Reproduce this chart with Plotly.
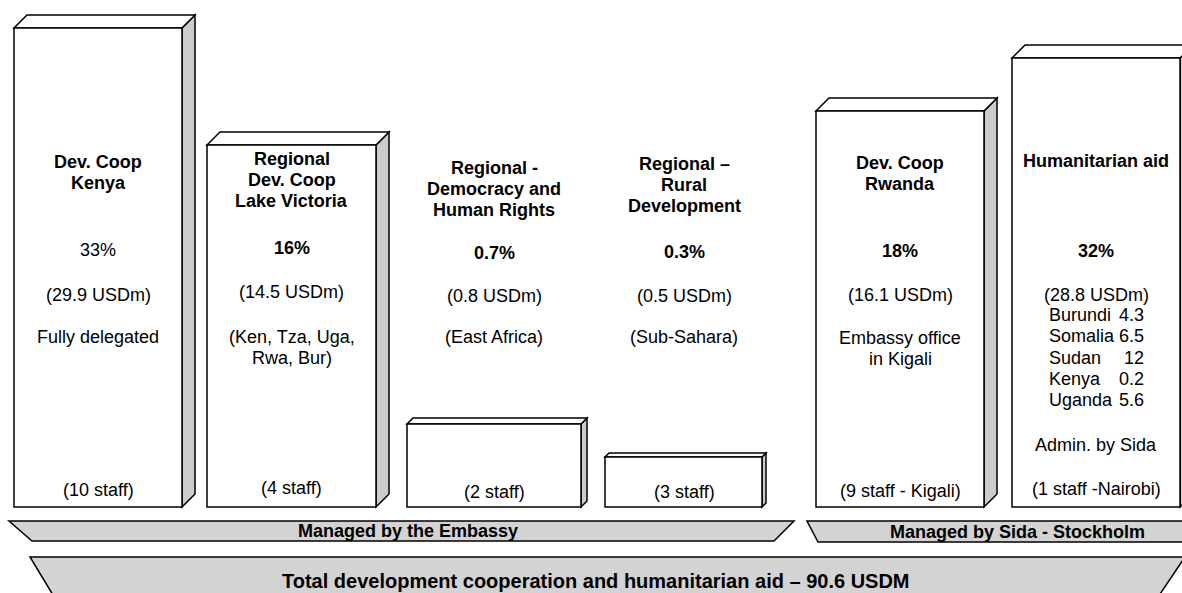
import plotly.graph_objects as go

# ---- data ----
box_titles = [["Dev. Coop", "Kenya"], ["Regional", "Dev. Coop", "Lake Victoria"],
              ["Regional -", "Democracy and", "Human Rights"], ["Regional –", "Rural", "Development"],
              ["Dev. Coop", "Rwanda"], ["Humanitarian aid"]]
box_shares = ["33%", "16%", "0.7%", "0.3%", "18%", "32%"]
share_bold = [False, True, True, True, True, True]
box_amounts = ["(29.9 USDm)", "(14.5 USDm)", "(0.8 USDm)", "(0.5 USDm)", "(16.1 USDm)", "(28.8 USDm)"]
box_notes = [["Fully delegated"], ["(Ken, Tza, Uga,", "Rwa, Bur)"], ["(East Africa)"], ["(Sub-Sahara)"],
             ["Embassy office", "in Kigali"], []]
box_staff = ["(10 staff)", "(4 staff)", "(2 staff)", "(3 staff)", "(9 staff - Kigali)", "(1 staff -Nairobi)"]
hum_countries = ["Burundi", "Somalia", "Sudan", "Kenya", "Uganda"]
hum_values = ["4.3", "6.5", "12", "0.2", "5.6"]
hum_admin = "Admin. by Sida"
banner_labels = ["Managed by the Embassy", "Managed by Sida - Stockholm",
                 "Total development cooperation and humanitarian aid – 90.6 USDM"]

# ---- layout geometry (pixels, y downward) ----
W, H = 1182, 593
# x0, x1 (front face), y_top (front), depth
boxes = [(14, 182, 28, 13), (207, 376, 145, 13), (407, 581, 424, 6),
         (605, 762, 457, 4), (816, 984, 111, 13), (1012, 1180, 58, 13)]
y_bottom = 507
text_cx = [98, 291.5, 494, 684, 900, 1096]
title_y = [161.5, 159, 167.5, 164, 162.5, 160.5]
share_y = [250, 248, 253, 252, 251, 251]
amount_y = [294.5, 292, 296, 296, 295, 295]
note_y = [337, 336.5, 337, 337, 338, 0]
staff_y = [490, 488, 492, 492, 491, 489]
LS = 21

FONT = "Arial, Liberation Sans, Helvetica, sans-serif"
FS = 18
SIDE = "#cccccc"
BANNER = "#d3d3d3"

shapes = []
annotations = []

def path(pts):
    return "M " + " L ".join(f"{x},{y}" for x, y in pts) + " Z"

for i, (x0, x1, yt, d) in enumerate(boxes):
    shapes.append(dict(type="path", path=path([(x1, yt), (x1 + d, yt - d), (x1 + d, y_bottom - d), (x1, y_bottom)]),
                       fillcolor=SIDE, line=dict(color="black", width=1.5), xref="x", yref="y"))
    shapes.append(dict(type="path", path=path([(x0, yt), (x0 + d, yt - d), (x1 + d, yt - d), (x1, yt)]),
                       fillcolor="white", line=dict(color="black", width=1.5), xref="x", yref="y"))
    shapes.append(dict(type="rect", x0=x0, x1=x1, y0=yt, y1=y_bottom,
                       fillcolor="white", line=dict(color="black", width=1.5), xref="x", yref="y"))

def ann(x, y, text, size=FS, bold=False, xanchor="center"):
    annotations.append(dict(x=x, y=y, xref="x", yref="y", text=(f"<b>{text}</b>" if bold else text),
                            showarrow=False, xanchor=xanchor, yanchor="middle",
                            font=dict(family=FONT, size=size, color="black"), align="center"))

for i in range(6):
    cx = text_cx[i]
    for k, line in enumerate(box_titles[i]):
        ann(cx, title_y[i] + k * LS, line, bold=True)
    ann(cx, share_y[i], box_shares[i], bold=share_bold[i])
    ann(cx, amount_y[i], box_amounts[i])
    for k, line in enumerate(box_notes[i]):
        ann(cx, note_y[i] + k * LS, line)
    ann(cx, staff_y[i], box_staff[i])

# humanitarian country list
for j, (c, v) in enumerate(zip(hum_countries, hum_values)):
    yy = 315 + j * 21.3
    ann(1047, yy, c, xanchor="left")
    ann(1146, yy, v, xanchor="right")
ann(1096, 445, hum_admin)

# banners
banners = [
    [(9, 521), (794, 521), (774, 541), (32, 541)],
    [(807, 521), (1200, 521), (1200, 542), (818, 542)],
    [(30, 557), (1185, 557), (1156, 600), (56, 600)],
]
for pts in banners:
    shapes.append(dict(type="path", path=path(pts), fillcolor=BANNER,
                       line=dict(color="black", width=1.5), xref="x", yref="y"))
ann(408, 531, banner_labels[0], bold=True)
ann(1017, 532, banner_labels[1], bold=True)
ann(596, 581, banner_labels[2], bold=True, size=20)

fig = go.Figure()
fig.add_trace(go.Scatter(x=[0, W], y=[0, H], mode="markers", marker=dict(opacity=0), hoverinfo="skip",
                         showlegend=False))
fig.update_layout(
    width=W, height=H, margin=dict(l=0, r=0, t=0, b=0),
    paper_bgcolor="white", plot_bgcolor="white",
    xaxis=dict(range=[0, W], visible=False, fixedrange=True),
    yaxis=dict(range=[H, 0], visible=False, fixedrange=True),
    shapes=shapes, annotations=annotations, showlegend=False,
)
fig.write_html("out.html", config={"displayModeBar": False},
               post_script="document.body.style.margin='0';document.body.style.overflow='hidden';")
